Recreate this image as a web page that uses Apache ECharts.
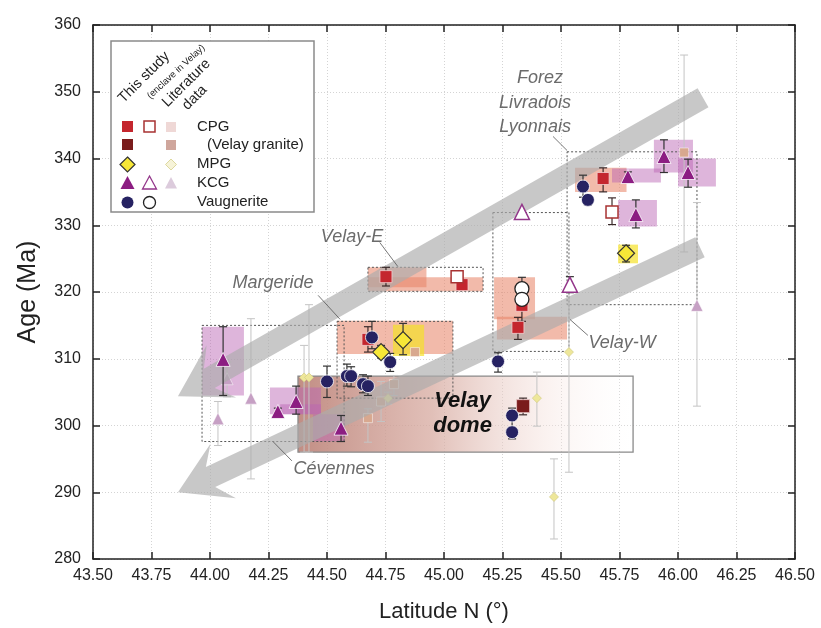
<!DOCTYPE html>
<html>
<head>
    <meta charset="utf-8">
    <title>Age vs latitude</title>
    <script src="https://cdn.jsdelivr.net/npm/echarts@6/dist/echarts.min.js"></script>
    <style>
        html, body { margin: 0; background: #fff; }
        #chart1 { width: 821px; height: 628px; }
    </style>
</head>
<body>
<div id="chart1"></div>
<script>
    // x = latitude N (deg), y = age (Ma)
    var latTicks = [43.5, 46.5, 0.25];
    var ageTicks = [280, 360, 10];

    // this study, [lat, age, errHigh, errLow]
    var cpg = [
        [44.752, 322.3, 323.7, 320.9],
        [45.077, 321.1, 321.6, 320.4],
        [44.675, 312.9, 314.8, 311.0],
        [45.333, 318.0, 318.5, 315.6],
        [45.316, 314.7, 316.2, 312.9],
        [45.680, 337.0, 338.6, 335.0]
    ];
    var cpgEnclave = [
        [45.056, 322.3, 323.2, 322.2],
        [45.718, 332.0, 334.1, 330.1]
    ];
    var velayGranite = [
        [45.338, 302.9, 304.1, 301.6]
    ];
    var mpg = [
        [44.731, 311.0, 312.0, 310.1],
        [44.825, 312.8, 315.3, 310.6],
        [45.778, 325.8, 327.0, 324.5]
    ];
    var kcg = [
        [44.056, 309.9, 314.8, 304.5],
        [44.290, 302.1, 302.6, 301.6],
        [44.368, 303.6, 305.9, 301.7],
        [44.560, 299.6, 301.5, 297.6],
        [45.786, 337.3, 338.0, 336.6],
        [45.820, 331.6, 333.8, 329.6],
        [45.940, 340.3, 342.8, 337.9],
        [46.043, 337.9, 339.9, 335.7]
    ];
    var kcgEnclave = [
        [45.333, 332.0, 332.0, 332.0],
        [45.538, 321.1, 322.3, 319.9]
    ];
    var vaugnerite = [
        [45.594, 335.8, 337.5, 334.2],
        [45.615, 333.8, 334.5, 333.0],
        [44.692, 313.2, 315.6, 311.5],
        [44.770, 309.5, 310.8, 308.1],
        [44.500, 306.6, 308.9, 304.2],
        [44.585, 307.4, 309.2, 305.9],
        [44.603, 307.4, 308.8, 305.8],
        [44.654, 306.2, 307.6, 304.9],
        [44.675, 305.9, 307.4, 304.5],
        [45.231, 309.6, 310.9, 308.0],
        [45.291, 301.5, 302.6, 299.7],
        [45.291, 299.0, 299.7, 298.0]
    ];
    var vaugneriteEnclave = [
        [45.333, 320.5, 322.2, 320.5],
        [45.333, 318.9, 318.9, 317.4]
    ];

    // literature data
    var litVelayGranite = [
        [46.026, 340.9, 355.5, 326.0],
        [44.876, 311.0, 311.0, 311.0],
        [44.786, 306.2, 307.5, 304.5],
        [44.731, 303.6, 306.6, 300.6],
        [44.675, 301.1, 302.5, 297.5]
    ];
    var litMpg = [
        [44.402, 307.2, 312.0, 296.0],
        [44.423, 307.2, 318.1, 296.0],
        [44.761, 304.1, 305.0, 303.2],
        [45.397, 304.1, 308.0, 299.9],
        [45.534, 311.0, 321.0, 293.0],
        [45.470, 289.3, 295.0, 283.0]
    ];
    var litKcg = [
        [44.073, 307.0, 309.5, 304.3],
        [44.034, 301.0, 303.6, 297.0],
        [44.175, 304.1, 316.0, 292.0],
        [46.081, 318.0, 333.4, 302.9]
    ];

    // age ranges, [lat1, lat2, ageTop, ageBottom]
    var cpgRanges = [
        [44.675, 44.925, 323.7, 320.7],
        [44.675, 45.167, 322.2, 320.1],
        [44.543, 45.038, 315.7, 310.7],
        [45.214, 45.389, 322.2, 315.9],
        [45.226, 45.526, 316.3, 312.9],
        [45.560, 45.780, 338.6, 335.0]
    ];
    var kcgRanges = [
        [43.966, 44.145, 314.8, 304.5],
        [44.256, 44.474, 305.7, 301.7],
        [44.300, 44.474, 303.2, 301.7],
        [44.440, 44.577, 301.7, 297.6],
        [45.718, 45.927, 338.5, 336.4],
        [45.897, 46.064, 342.8, 337.9],
        [46.000, 46.162, 340.0, 335.8],
        [45.744, 45.910, 333.8, 329.8]
    ];
    var mpgRanges = [
        [44.782, 44.915, 315.1, 310.4],
        [45.744, 45.829, 327.1, 324.3]
    ];

    // regions
    var regionBoxes = [
        [44.675, 45.167, 323.7, 320.1],
        [44.543, 45.038, 315.6, 304.1],
        [43.966, 44.573, 315.0, 297.6],
        [45.209, 45.534, 331.9, 311.1],
        [45.526, 46.081, 341.0, 318.1]
    ];
    var velayDome = [[44.376, 45.808, 307.4, 296.0]];
    var regionNames = ['Forez', 'Livradois', 'Lyonnais', 'Velay-E', 'Margeride', 'Velay-W', 'Cévennes'];
    var regionNamePos = [
        [45.410, 352.1], [45.389, 348.3], [45.389, 344.7],
        [44.607, 328.3], [44.269, 321.4], [45.761, 312.4], [44.530, 293.5]
    ];
    var leaders = [
        [45.466, 343.3, 45.526, 341.2],
        [44.726, 327.4, 44.803, 323.8],
        [44.462, 319.5, 44.556, 315.9],
        [45.538, 315.9, 45.615, 313.5],
        [44.269, 297.6, 44.350, 294.7]
    ];
    // trend arrows, [latTail, ageTail, latTip, ageTip]
    var arrows = [
        [46.107, 349.1, 43.863, 304.4],
        [46.094, 326.7, 43.863, 290.0]
    ];

    var FONT = '"Liberation Sans", Arial, sans-serif';

    function rectItem(fill, stroke, dash) {
        return function (params, api) {
            var p1 = api.coord([api.value(0), api.value(2)]);
            var p2 = api.coord([api.value(1), api.value(3)]);
            return {
                type: 'rect',
                shape: {x: p1[0], y: p1[1], width: p2[0] - p1[0], height: p2[1] - p1[1]},
                style: {fill: fill, stroke: stroke || null, lineWidth: 1, lineDash: dash || null}
            };
        };
    }

    function errItem(color, cap, lw) {
        return function (params, api) {
            var x = api.value(0);
            var p1 = api.coord([x, api.value(2)]);
            var p2 = api.coord([x, api.value(3)]);
            if (Math.abs(p2[1] - p1[1]) < 1) return;
            var st = {stroke: color, lineWidth: lw};
            return {
                type: 'group', children: [
                    {type: 'line', shape: {x1: p1[0], y1: p1[1], x2: p2[0], y2: p2[1]}, style: st},
                    {type: 'line', shape: {x1: p1[0] - cap, y1: p1[1], x2: p1[0] + cap, y2: p1[1]}, style: st},
                    {type: 'line', shape: {x1: p2[0] - cap, y1: p2[1], x2: p2[0] + cap, y2: p2[1]}, style: st}
                ]
            };
        };
    }

    function arrowItem(params, api) {
        var a = api.coord([api.value(0), api.value(1)]);
        var b = api.coord([api.value(2), api.value(3)]);
        var dx = b[0] - a[0], dy = b[1] - a[1];
        var len = Math.sqrt(dx * dx + dy * dy);
        var ux = dx / len, uy = dy / len, nx = -uy, ny = ux;
        var w = 11, hw = 30, hl = 46, barb = 10;
        var c = [b[0] - ux * hl, b[1] - uy * hl];
        var pts = [
            [a[0] + nx * w, a[1] + ny * w],
            [c[0] + nx * w + ux * barb, c[1] + ny * w + uy * barb],
            [c[0] + nx * hw - ux * 4, c[1] + ny * hw - uy * 4],
            b,
            [c[0] - nx * hw - ux * 4, c[1] - ny * hw - uy * 4],
            [c[0] - nx * w + ux * barb, c[1] - ny * w + uy * barb],
            [a[0] - nx * w, a[1] - ny * w]
        ];
        return {type: 'polygon', shape: {points: pts}, style: {fill: 'rgba(172,172,172,0.66)'}};
    }

    function lineItem(params, api) {
        var a = api.coord([api.value(0), api.value(1)]);
        var b = api.coord([api.value(2), api.value(3)]);
        return {type: 'line', shape: {x1: a[0], y1: a[1], x2: b[0], y2: b[1]},
            style: {stroke: '#555', lineWidth: 0.8}};
    }

    function nameItem(params, api) {
        var p = api.coord([api.value(0), api.value(1)]);
        return {
            type: 'text', x: p[0], y: p[1],
            style: {
                text: regionNames[params.dataIndex], fill: '#6b6b6b', fontSize: 18,
                fontStyle: 'italic', fontFamily: FONT, align: 'center', verticalAlign: 'middle'
            }
        };
    }

    function domeItem(params, api) {
        var p1 = api.coord([api.value(0), api.value(2)]);
        var p2 = api.coord([api.value(1), api.value(3)]);
        return {
            type: 'rect',
            shape: {x: p1[0], y: p1[1], width: p2[0] - p1[0], height: p2[1] - p1[1]},
            style: {
                fill: new echarts.graphic.LinearGradient(0, 0, 1, 0, [
                    {offset: 0, color: 'rgba(190,135,125,0.95)'},
                    {offset: 0.4, color: 'rgba(215,170,160,0.75)'},
                    {offset: 0.75, color: 'rgba(245,225,220,0.4)'},
                    {offset: 1, color: 'rgba(255,255,255,0.1)'}
                ]),
                stroke: '#8a8a8a', lineWidth: 1.3
            }
        };
    }

    function domeTextItem(params, api) {
        var p1 = api.coord([api.value(0), api.value(2)]);
        var p2 = api.coord([api.value(1), api.value(3)]);
        var cx = (p1[0] + p2[0]) / 2 - 3, cy = (p1[1] + p2[1]) / 2;
        var ts = {fill: '#111', fontSize: 22, fontWeight: 'bold', fontStyle: 'italic',
            fontFamily: FONT, align: 'center', verticalAlign: 'middle'};
        return {
            type: 'group', children: [
                {type: 'text', x: cx, y: cy - 13, style: Object.assign({text: 'Velay'}, ts)},
                {type: 'text', x: cx, y: cy + 12, style: Object.assign({text: 'dome'}, ts)}
            ]
        };
    }

    function custom(data, render, z) {
        return {type: 'custom', data: data, renderItem: render, z: z, silent: true,
            encode: {x: 0, y: 1}, clip: false};
    }

    function dots(data, symbol, size, color, border, bw, z) {
        return {
            type: 'scatter', data: data, symbol: symbol, symbolSize: size, z: z,
            encode: {x: 0, y: 1}, silent: true,
            itemStyle: {color: color, borderColor: border, borderWidth: bw, opacity: 1}
        };
    }

    var series = [
        custom(velayDome, domeItem, 1),
        custom(cpgRanges, rectItem('rgba(232,130,100,0.55)'), 1),
        custom(kcgRanges, rectItem('rgba(185,100,180,0.48)'), 1),
        custom(mpgRanges, rectItem('rgba(245,225,40,0.7)'), 1),
        custom(regionBoxes, rectItem('rgba(0,0,0,0)', '#555', [2, 2]), 2),
        custom(litVelayGranite, errItem('#c4c4c4', 4, 1), 3),
        custom(litMpg, errItem('#c4c4c4', 4, 1), 3),
        custom(litKcg, errItem('#c4c4c4', 4, 1), 3),
        dots(litVelayGranite, 'rect', 9, '#d8a88f', '#fff', 0.5, 3),
        dots(litMpg, 'diamond', 9, '#eee79a', '#d6cf8a', 0.8, 3),
        dots(litKcg, 'triangle', 12, '#c6a0c4', '#fff', 0.5, 3),
        custom(arrows, arrowItem, 4),
        custom(velayDome, domeTextItem, 5),
        custom(leaders, lineItem, 5),
        custom(regionNamePos, nameItem, 5),
        custom(cpg, errItem('#3a2a2a', 4, 1.2), 6),
        custom(cpgEnclave, errItem('#3a2a2a', 4, 1.2), 6),
        custom(velayGranite, errItem('#3a2a2a', 4, 1.2), 6),
        custom(mpg, errItem('#333', 4, 1.2), 6),
        custom(kcg, errItem('#333', 4, 1.2), 6),
        custom(kcgEnclave, errItem('#333', 4, 1.2), 6),
        custom(vaugnerite, errItem('#333', 4, 1.2), 6),
        custom(vaugneriteEnclave, errItem('#333', 4, 1.2), 6),
        dots(cpg, 'rect', 12, '#c4262e', '#f3d0d0', 0.8, 7),
        dots(cpgEnclave, 'rect', 12, '#fff', '#a83232', 1.5, 7),
        dots(velayGranite, 'rect', 13, '#7a1c1c', '#e8c8c8', 0.8, 7),
        dots(mpg, 'diamond', 17, '#f7e737', '#333', 1.2, 7),
        dots(kcg, 'triangle', 14, '#8c1d82', '#fff', 0.8, 7),
        dots(kcgEnclave, 'triangle', 15, '#fff', '#93368a', 1.5, 7),
        dots(vaugnerite, 'circle', 13, '#262262', '#fff', 0.8, 7),
        dots(vaugneriteEnclave, 'circle', 14, '#fff', '#222', 1.3, 7)
    ];

    // legend drawn by hand
    var legendGraphic = [
        {type: 'rect', shape: {x: 111, y: 41, width: 203, height: 171},
            style: {fill: '#fff', stroke: '#8a8a8a', lineWidth: 1.5}, z: 20},
        {type: 'text', x: 126, y: 106, rotation: Math.PI / 4, z: 21,
            style: {text: 'This study', fontSize: 14.5, fontFamily: FONT, fill: '#222', verticalAlign: 'bottom'}},
        {type: 'text', x: 152, y: 101, rotation: Math.PI / 4.2, z: 21,
            style: {text: '(enclave in Velay)', fontSize: 9.5, fontFamily: FONT, fill: '#222', verticalAlign: 'bottom'}},
        {type: 'text', x: 170, y: 110, rotation: Math.PI / 4, z: 21,
            style: {text: 'Literature', fontSize: 14.5, fontFamily: FONT, fill: '#222', verticalAlign: 'bottom'}},
        {type: 'text', x: 190, y: 113, rotation: Math.PI / 4, z: 21,
            style: {text: 'data', fontSize: 14.5, fontFamily: FONT, fill: '#222', verticalAlign: 'bottom'}},
        {type: 'rect', shape: {x: 122, y: 121, width: 11, height: 11}, style: {fill: '#c4262e'}, z: 21},
        {type: 'rect', shape: {x: 144, y: 121, width: 11, height: 11}, style: {fill: '#fff', stroke: '#a83232', lineWidth: 1.5}, z: 21},
        {type: 'rect', shape: {x: 166, y: 122, width: 10, height: 10}, style: {fill: '#efd8d6'}, z: 21},
        {type: 'rect', shape: {x: 122, y: 139, width: 11, height: 11}, style: {fill: '#7a1c1c'}, z: 21},
        {type: 'rect', shape: {x: 166, y: 140, width: 10, height: 10}, style: {fill: '#cfa69c'}, z: 21},
        {type: 'polygon', shape: {points: [[127.5, 157], [135, 164.5], [127.5, 172], [120, 164.5]]},
            style: {fill: '#f7e737', stroke: '#333', lineWidth: 1.2}, z: 21},
        {type: 'polygon', shape: {points: [[171, 159], [176.5, 164.5], [171, 170], [165.5, 164.5]]},
            style: {fill: '#f6f3d8', stroke: '#d6cf8a', lineWidth: 0.8}, z: 21},
        {type: 'polygon', shape: {points: [[127.5, 176], [134.5, 189], [120.5, 189]]}, style: {fill: '#8c1d82'}, z: 21},
        {type: 'polygon', shape: {points: [[149.5, 176], [156.5, 189], [142.5, 189]]},
            style: {fill: '#fff', stroke: '#93368a', lineWidth: 1.3}, z: 21},
        {type: 'polygon', shape: {points: [[171, 177], [177, 188.5], [165, 188.5]]}, style: {fill: '#dccbdc'}, z: 21},
        {type: 'circle', shape: {cx: 127.5, cy: 202.5, r: 6}, style: {fill: '#262262'}, z: 21},
        {type: 'circle', shape: {cx: 149.5, cy: 202.5, r: 6}, style: {fill: '#fff', stroke: '#222', lineWidth: 1.3}, z: 21},
        {type: 'text', x: 197, y: 127, z: 21, style: {text: 'CPG', fontSize: 15, fontFamily: FONT, fill: '#222', verticalAlign: 'middle'}},
        {type: 'text', x: 207, y: 145, z: 21, style: {text: '(Velay granite)', fontSize: 15, fontFamily: FONT, fill: '#222', verticalAlign: 'middle'}},
        {type: 'text', x: 197, y: 164, z: 21, style: {text: 'MPG', fontSize: 15, fontFamily: FONT, fill: '#222', verticalAlign: 'middle'}},
        {type: 'text', x: 197, y: 183, z: 21, style: {text: 'KCG', fontSize: 15, fontFamily: FONT, fill: '#222', verticalAlign: 'middle'}},
        {type: 'text', x: 197, y: 202, z: 21, style: {text: 'Vaugnerite', fontSize: 15, fontFamily: FONT, fill: '#222', verticalAlign: 'middle'}}
    ];

    var axisCommon = {
        axisLine: {lineStyle: {color: '#222', width: 1.5}},
        axisTick: {inside: true, length: 7, lineStyle: {color: '#222', width: 1.5}},
        splitLine: {show: false}
    };

    var myChart1 = echarts.init(document.getElementById('chart1'), null, {renderer: 'canvas'});
    myChart1.setOption({
        backgroundColor: '#fff',
        animation: false,
        grid: {left: 93, right: 26, top: 25, bottom: 68},
        xAxis: [
            Object.assign({}, axisCommon, {
                type: 'value', min: latTicks[0], max: latTicks[1], interval: latTicks[2],
                name: 'Latitude N (°)', nameLocation: 'middle', nameGap: 42,
                nameTextStyle: {fontSize: 22, fontFamily: FONT, color: '#222'},
                axisLabel: {fontSize: 16, fontFamily: FONT, color: '#222', margin: 9,
                    formatter: function (v) { return v.toFixed(2); }},
                splitLine: {show: true, lineStyle: {color: '#d4d4d4', type: [1, 2], width: 1}}
            }),
            Object.assign({}, axisCommon, {
                type: 'value', position: 'top', min: latTicks[0], max: latTicks[1], interval: latTicks[2],
                axisLabel: {show: false}
            })
        ],
        yAxis: [
            Object.assign({}, axisCommon, {
                type: 'value', min: ageTicks[0], max: ageTicks[1], interval: ageTicks[2],
                name: 'Age (Ma)', nameLocation: 'middle', nameGap: 52,
                nameTextStyle: {fontSize: 25, fontFamily: FONT, color: '#222'},
                axisLabel: {fontSize: 16, fontFamily: FONT, color: '#222', margin: 12},
                splitLine: {show: true, lineStyle: {color: '#d4d4d4', type: [1, 2], width: 1}}
            }),
            Object.assign({}, axisCommon, {
                type: 'value', position: 'right', min: ageTicks[0], max: ageTicks[1], interval: ageTicks[2],
                axisLabel: {show: false}
            })
        ],
        graphic: legendGraphic,
        series: series
    });
</script>
</body>
</html>
